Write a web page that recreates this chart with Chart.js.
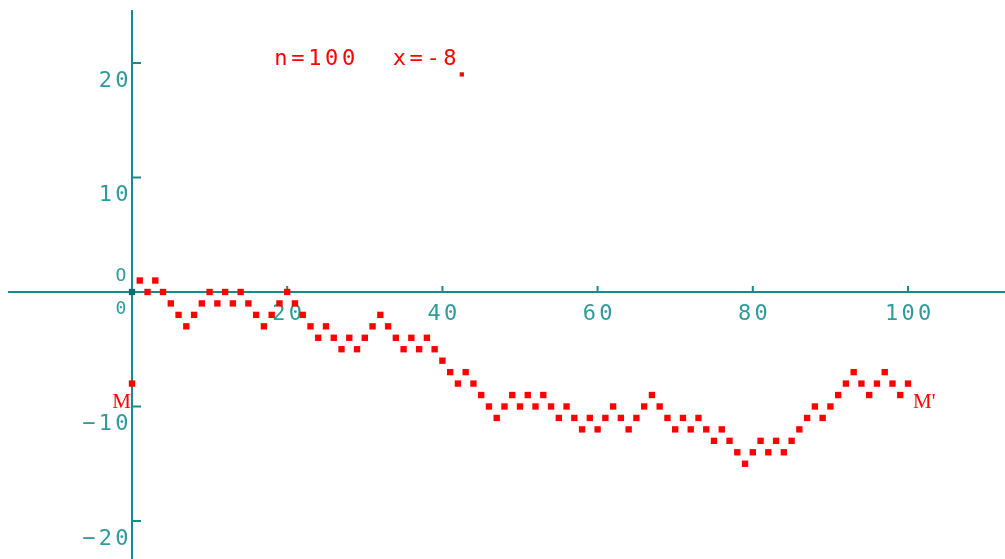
<!DOCTYPE html>
<html>
<head>
<meta charset="utf-8">
<script src="https://cdn.jsdelivr.net/npm/chart.js@4.4.1/dist/chart.umd.min.js"></script>
<style>
  html, body { margin: 0; padding: 0; background: #fff; overflow: hidden; }
  #wrap { width: 1005px; height: 559px; position: relative; }
</style>
</head>
<body>
<div id="wrap"><canvas id="walk"></canvas></div>
<script>
// position of the walk after each step (step = index, 0..100)
const walkY = [
  0, 1, 0, 1, 0, -1, -2, -3, -2, -1,
  0, -1, 0, -1, 0, -1, -2, -3, -2, -1,
  0, -1, -2, -3, -4, -3, -4, -5, -4, -5,
  -4, -3, -2, -3, -4, -5, -4, -5, -4, -5,
  -6, -7, -8, -7, -8, -9, -10, -11, -10, -9,
  -10, -9, -10, -9, -10, -11, -10, -11, -12, -11,
  -12, -11, -10, -11, -12, -11, -10, -9, -10, -11,
  -12, -11, -12, -11, -12, -13, -12, -13, -14, -15,
  -14, -13, -14, -13, -14, -13, -12, -11, -10, -11,
  -10, -9, -8, -7, -8, -9, -8, -7, -8, -9,
  -8
];

// final position carried back to the vertical axis (point M)
const markM = [{ x: 0, y: -8 }];
// small marker next to the caption
const cursorMark = [{ x: 42.5, y: 19 }];

const xTicks = [20, 40, 60, 80, 100];
const yTicks = [20, 10, -10, -20];
const caption = "n=100  x=-8";

const TEAL = "#178b8b";
const TEXT_TEAL = "#319a9a";
const RED = "#ff0000";
const MONO = "DejaVu Sans Mono";

// draw text one glyph at a time on a fixed advance (wide mono look)
function monoText(ctx, text, x, y, align, adv) {
  const w = adv * text.length;
  let start = x;
  if (align === "right") start = x - w;
  else if (align === "center") start = x - w / 2;
  ctx.textAlign = "center";
  for (let i = 0; i < text.length; i++) {
    ctx.fillText(text[i], start + adv * (i + 0.5), y);
  }
}

const axesPlugin = {
  id: "centerAxes",
  beforeDatasetsDraw(chart) {
    const { ctx } = chart;
    const sx = chart.scales.x;
    const sy = chart.scales.y;
    const x0 = sx.getPixelForValue(0);
    const y0 = sy.getPixelForValue(0);

    ctx.save();
    ctx.strokeStyle = TEAL;
    ctx.lineWidth = 2;

    // axes
    ctx.beginPath();
    ctx.moveTo(8, y0);
    ctx.lineTo(chart.width, y0);
    ctx.moveTo(x0, 10);
    ctx.lineTo(x0, chart.height);
    ctx.stroke();

    // tick marks
    ctx.beginPath();
    xTicks.forEach((v) => {
      const px = sx.getPixelForValue(v);
      ctx.moveTo(px, y0);
      ctx.lineTo(px, y0 - 6);
    });
    yTicks.forEach((v) => {
      const py = sy.getPixelForValue(v);
      ctx.moveTo(x0, py);
      ctx.lineTo(x0 + 9, py);
    });
    ctx.stroke();

    // tick labels
    ctx.fillStyle = TEXT_TEAL;
    ctx.textBaseline = "alphabetic";
    ctx.font = "22px " + MONO;
    xTicks.forEach((v) => {
      monoText(ctx, String(v), sx.getPixelForValue(v), y0 + 28, "center", 16.5);
    });
    yTicks.forEach((v) => {
      const label = v < 0 ? "\u2212" + Math.abs(v) : String(v);
      monoText(ctx, label, x0 - 2, sy.getPixelForValue(v) + 24, "right", 16.5);
    });
    ctx.font = "18px " + MONO;
    monoText(ctx, "O", x0 - 11, y0 - 11, "center", 14);
    monoText(ctx, "0", x0 - 11, y0 + 22, "center", 14);

    // caption
    ctx.fillStyle = RED;
    ctx.font = "22px " + MONO;
    monoText(ctx, caption, 272.5, 65, "left", 16.9);

    // M and M'
    ctx.font = "21px 'Liberation Serif'";
    ctx.textAlign = "right";
    ctx.fillText("M", x0 - 1, sy.getPixelForValue(-8) + 24);
    ctx.textAlign = "left";
    ctx.fillText("M'", sx.getPixelForValue(100) + 5, sy.getPixelForValue(-8) + 24);
    ctx.restore();
  }
};

new Chart(document.getElementById("walk"), {
  type: "scatter",
  data: {
    datasets: [
      {
        label: "walk",
        data: walkY.map((y, i) => ({ x: i, y })),
        pointStyle: "rect",
        pointRadius: 4.5,
        pointBorderWidth: 0,
        pointBackgroundColor: (c) => (c.dataIndex === 0 ? "#0c6e6e" : RED)
      },
      {
        label: "M",
        data: markM,
        pointStyle: "rect",
        pointRadius: 4.5,
        pointBorderWidth: 0,
        pointBackgroundColor: RED
      },
      {
        label: "cursor",
        data: cursorMark,
        pointStyle: "rect",
        pointRadius: 3,
        pointBorderWidth: 0,
        pointBackgroundColor: RED
      }
    ]
  },
  options: {
    responsive: true,
    maintainAspectRatio: false,
    animation: false,
    layout: { padding: 0, autoPadding: false },
    scales: {
      x: { type: "linear", display: false, min: -17.01, max: 112.5 },
      y: { type: "linear", display: false, min: -23.32, max: 25.5 }
    },
    plugins: { legend: { display: false }, tooltip: { enabled: false } }
  },
  plugins: [axesPlugin]
});
</script>
</body>
</html>
